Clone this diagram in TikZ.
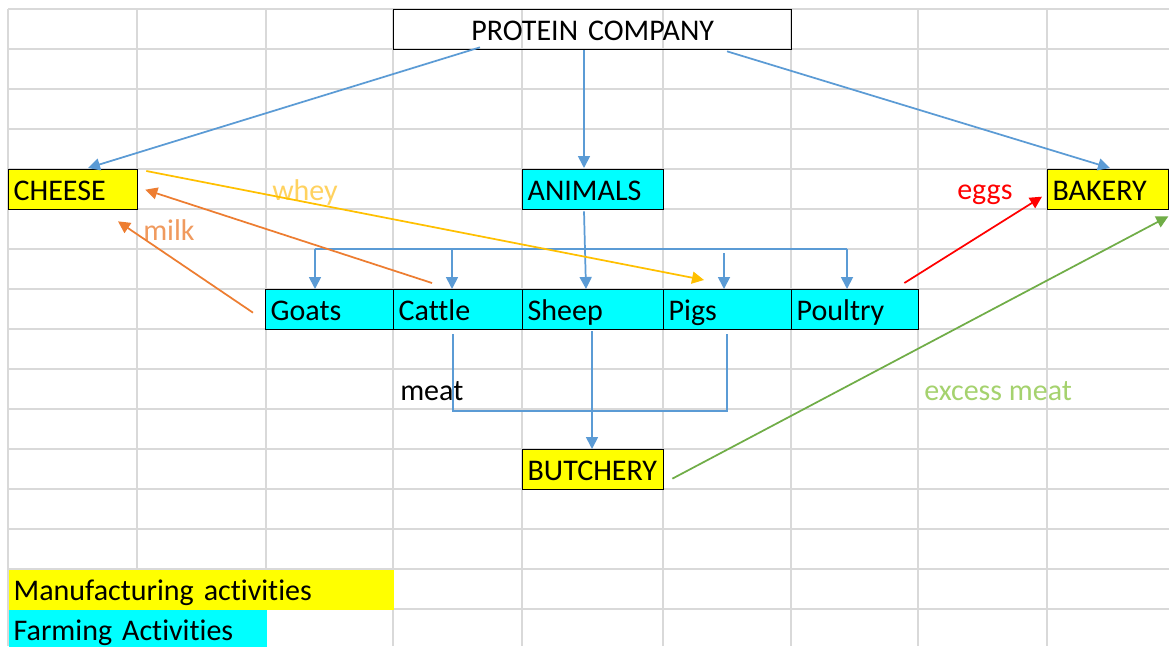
\documentclass[tikz,border=0pt]{standalone}
\usepackage{fontspec}
\setmainfont{Carlito}[Ligatures={NoCommon}]
\usetikzlibrary{arrows.meta,calc}
\definecolor{xblue}{HTML}{5B9BD5}
\definecolor{xorange}{HTML}{ED7D31}
\definecolor{xgold}{HTML}{FFC000}
\definecolor{xred}{HTML}{FF0000}
\definecolor{xgreen}{HTML}{70AD47}
\definecolor{xyellow}{HTML}{FFFF00}
\definecolor{xcyan}{HTML}{00FFFF}
\definecolor{gridc}{HTML}{D9D9D9}
\definecolor{wheytxt}{HTML}{FFD25F}
\definecolor{milktxt}{HTML}{F09A5E}
\definecolor{excesstxt}{HTML}{A5D26E}
\begin{document}
\begin{tikzpicture}[x=0.75pt,y=-0.75pt,
  txt/.style={font=\fontsize{22.5}{27}\selectfont},
  cell/.style={txt, draw=black, line width=1pt, rectangle, anchor=north west,
    inner xsep=3.75pt, inner ysep=0pt, minimum height=30pt,
    text height=16.5pt, text depth=0pt, align=left},
  lgd/.style={cell, draw=none},
  lbl/.style={txt, anchor=base west, inner sep=0pt},
  conn/.style={line width=1.3pt},
  tip/.style={-{Triangle[length=9pt,width=9pt]}},
  gridline/.style={draw=gridc, line width=1.1pt}
]
\fill[white] (0,0) rectangle (1169,646);
\useasboundingbox (0,0) rectangle (1169,646);
% spreadsheet grid
\foreach \x in {8,137,266,393,522,663,791,918,1047} \draw[gridline] (\x,9) -- (\x,646);
\foreach \y in {9,49,...,609} \draw[gridline] (8,\y) -- (1169,\y);

% boxes
\node[cell, align=center, text width=291pt] (protein) at (393,9) {PROTEIN COMPANY};
\node[cell, fill=xyellow, text width=89.25pt] (cheese) at (8,169) {CHEESE};
\node[cell, fill=xcyan, text width=98.25pt] (animals) at (522,169) {ANIMALS};
\node[cell, fill=xyellow, text width=83.25pt] (bakery) at (1047,169) {BAKERY};
\node[cell, fill=xcyan, text width=88.5pt] (goats) at (265,289) {Goats};
\node[cell, fill=xcyan, text width=89.25pt] (cattle) at (393,289) {Cattle};
\node[cell, fill=xcyan, text width=98.25pt] (sheep) at (522,289) {Sheep};
\node[cell, fill=xcyan, text width=88.5pt] (pigs) at (663,289) {Pigs};
\node[cell, fill=xcyan, text width=87.75pt] (poultry) at (791,289) {Poultry};
\node[cell, fill=xyellow, text width=98.25pt] (butchery) at (522,449) {BUTCHERY};
\node[lgd, fill=xyellow, text width=281.25pt] (manu) at (8,569) {Manufacturing activities};
\node[lgd, fill=xcyan, text width=186pt] (farm) at (8,609) {Farming Activities};

% labels
\node[lbl, text=wheytxt] (whey) at (272,200) {whey};
\node[lbl, text=milktxt] (milk) at (143,240) {milk};
\node[lbl, text=xred] (eggs) at (957,199) {eggs};
\node[lbl] (meat) at (400,400) {meat};
\node[lbl, text=excesstxt] (excess) at (924,400) {excess meat};

% protein company connectors
\draw[conn, draw=xblue, tip] ($(protein.south west)+(87,-3)$) -- ($(cheese.north west)+(80,-1)$);
\draw[conn, draw=xblue, tip] ($(protein.south west)+(191,0)$) -- ($(animals.north west)+(62,-1)$);
\draw[conn, draw=xblue, tip] ($(protein.south west)+(334,1)$) -- ($(bakery.north west)+(63,-1)$);

% animals distribution
\draw[conn, draw=xblue, tip] ($(animals.south west)+(62,1)$) -- ($(sheep.north west)+(64,0)$);
\coordinate (busL) at ($(goats.north west)+(50,-40)$);
\coordinate (busR) at ($(poultry.north west)+(56,-40)$);
\coordinate (busC) at ($(cattle.north west)+(59,-40)$);
\coordinate (busP) at ($(pigs.north west)+(61,-36)$);
\draw[conn, draw=xblue] (busL) -- (busR);
\draw[conn, draw=xblue, tip] (busL) -- (busL |- goats.north);
\draw[conn, draw=xblue, tip] (busC) -- (busC |- cattle.north);
\draw[conn, draw=xblue, tip] (busP) -- (busP |- pigs.north);
\draw[conn, draw=xblue, tip] (busR) -- (busR |- poultry.north);

% meat to butchery
\draw[conn, draw=xblue] ($(cattle.south west)+(60,4)$) -- ++(0,77) -| ($(pigs.south west)+(64,4)$);
\draw[conn, draw=xblue, tip] ($(sheep.south west)+(70,1)$) -- ($(butchery.north west)+(70,0)$);

% milk
\draw[conn, draw=xorange, tip] ($(cattle.north west)+(39,-6)$) -- ($(cheese.east)+(7,0)$);
\draw[conn, draw=xorange, tip] ($(goats.west)+(-12,3)$) -- ($(cheese.south west)+(110,11)$);
% whey
\draw[conn, draw=xgold, tip] ($(cheese.north east)+(8,2)$) -- ($(pigs.north west)+(41,-9)$);
% eggs
\draw[conn, draw=xred, tip] ($(poultry.north east)+(-15,-6)$) -- ($(bakery.west)+(-5,7)$);
% excess meat
\draw[conn, draw=xgreen, tip] ($(butchery.east)+(8,9)$) -- ($(bakery.south east)+(-1,6)$);
\end{tikzpicture}
\end{document}
